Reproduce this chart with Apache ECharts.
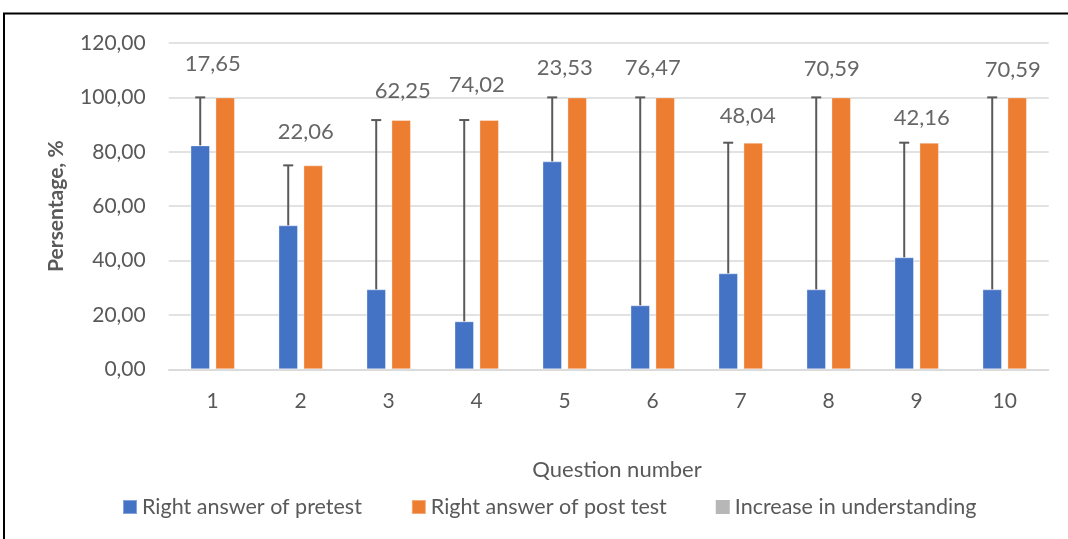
<!DOCTYPE html>
<html>
<head>
<meta charset="utf-8">
<script src="https://cdn.jsdelivr.net/npm/echarts@6/dist/echarts.min.js"></script>
<style>
html,body{margin:0;padding:0;background:#fff;}
#c{width:1068px;height:539px;}
</style>
</head>
<body>
<div id="c"></div>
<script>
// ---- data ----
const categories = ['1','2','3','4','5','6','7','8','9','10'];
const pretest  = [82.35, 52.94, 29.41, 17.65, 76.47, 23.53, 35.29, 29.41, 41.18, 29.41];
const posttest = [100, 75, 91.67, 91.67, 100, 100, 83.33, 100, 83.33, 100];
const increase = [17.65, 22.06, 62.25, 74.02, 23.53, 76.47, 48.04, 70.59, 42.16, 70.59];
const seriesNames = ['Right answer of pretest', 'Right answer of post test', 'Increase in understanding'];

// ---- style (label nudges as placed in the original) ----
const labelShift = [[0,33],[5,33],[14,29],[0,35],[0,29],[0,29],[7,27],[3,28],[5,25],[8,27]];
const BAR_W = 19.5, GAP = 0.28;
const FONT = 'Lato, "Open Sans", sans-serif';
const fmt = v => Number(v).toFixed(2).replace('.', ',');

const chart = echarts.init(document.getElementById('c'), null, {renderer:'canvas'});
chart.setOption({
  animation:false,
  backgroundColor:'#ffffff',
  textStyle:{fontFamily:FONT},
  grid:{left:168.7, right:19.3, top:43, bottom:169.7},
  legend:{
    data:seriesNames, left:117, top:491, icon:'rect', itemWidth:14, itemHeight:14, itemGap:49,
    textStyle:{fontSize:21.5, color:'#595959', fontFamily:FONT}
  },
  xAxis:{
    type:'category', data:categories,
    axisLine:{lineStyle:{color:'#D9D9D9', width:1.5}},
    axisTick:{show:false},
    axisLabel:{fontSize:21, color:'#595959', margin:21}
  },
  yAxis:{
    type:'value', min:0, max:120, interval:20,
    name:'Persentage, %', nameLocation:'middle', nameGap:102,
    nameTextStyle:{fontSize:21, fontWeight:'bold', color:'#595959', fontFamily:FONT},
    axisLine:{show:false}, axisTick:{show:false},
    axisLabel:{fontSize:21, color:'#595959', margin:23, formatter:fmt},
    splitLine:{lineStyle:{color:'#D9D9D9', width:1.5}}
  },
  graphic:[
    {type:'rect', shape:{x:4, y:13.5, width:1100, height:600}, style:{fill:'none', stroke:'#000', lineWidth:2}, silent:true},
    {type:'text', style:{text:'Question number', x:617, y:470, align:'center', verticalAlign:'middle', fontSize:22, fill:'#595959', fontFamily:FONT}}
  ],
  series:[
    {name:seriesNames[0], type:'bar', data:pretest, barWidth:BAR_W, barGap:(GAP*100)+'%',
     itemStyle:{color:'#4472C4', borderColor:'rgba(255,255,255,0.35)', borderWidth:1}},
    {name:seriesNames[1], type:'bar', data:posttest, barWidth:BAR_W,
     itemStyle:{color:'#ED7D31', borderColor:'rgba(255,255,255,0.35)', borderWidth:1}},
    {name:'errbars', type:'custom', z:5,
     data:categories.map((c,i)=>[i, pretest[i], increase[i]]),
     renderItem:function(params, api){
       const off = -(BAR_W + BAR_W*GAP)/2;
       const p0 = api.coord([api.value(0), api.value(1)]);
       const p1 = api.coord([api.value(0), api.value(1) + api.value(2)]);
       const x = p0[0] + off;
       const st = {stroke:'#595959', lineWidth:2};
       return {type:'group', children:[
         {type:'line', shape:{x1:x, y1:p0[1], x2:x, y2:p1[1]}, style:st},
         {type:'line', shape:{x1:x-5, y1:p1[1], x2:x+5, y2:p1[1]}, style:st}
       ]};
     }},
    {name:seriesNames[2], type:'scatter', symbolSize:0, itemStyle:{color:'#A5A5A5'},
     data:categories.map((c,i)=>({value:[i, posttest[i]],
        label:{offset:[labelShift[i][0], -labelShift[i][1]]}})),
     label:{show:true, position:'inside', align:'center', verticalAlign:'middle',
       fontSize:22, color:'#404040', fontFamily:FONT,
       formatter:p=>fmt(increase[p.dataIndex])}}
  ]
});
</script>
</body>
</html>
